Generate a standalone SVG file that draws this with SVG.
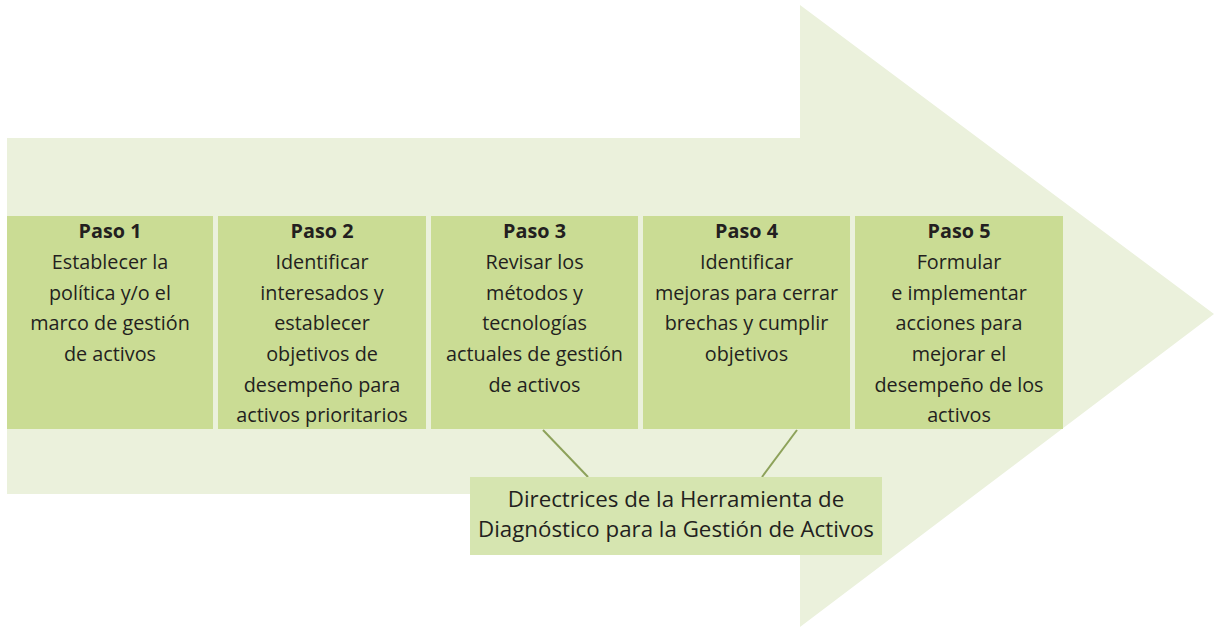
<svg xmlns="http://www.w3.org/2000/svg" width="1214" height="628" viewBox="0 0 1214 628">
<style>
.step{fill:#cadc94}
.guide{fill:#d6e5b0}
.t{font-family:"Open Sans","Liberation Sans",sans-serif;font-size:19.8px;fill:#231f20;text-anchor:middle}
.b{font-weight:bold}
.g{font-size:22.3px}
.conn{stroke:#8da25a;stroke-width:2;fill:none}
</style>
<rect width="1214" height="628" fill="#ffffff"/>
<g id="arrow">
<polygon points="7,138 800,138 800,5 1214,314 800,627 800,494 7,494" fill="#ebf1dc"/>
</g>
<g id="connectors">
<line class="conn" x1="543" y1="430" x2="588" y2="477"/>
<line class="conn" x1="797" y1="430" x2="762" y2="477"/>
</g>
<g id="paso1">
<rect class="step" x="7" y="216" width="206" height="213"/>
<text class="t" x="110"><tspan class="b" x="110" y="238">Paso 1</tspan><tspan x="110" y="269">Establecer la</tspan><tspan x="110" y="300">política y/o el</tspan><tspan x="110" y="330">marco de gestión</tspan><tspan x="110" y="361">de activos</tspan></text>
</g>
<g id="paso2">
<rect class="step" x="218" y="216" width="208" height="213"/>
<text class="t" x="322"><tspan class="b" x="322" y="238">Paso 2</tspan><tspan x="322" y="269">Identificar</tspan><tspan x="322" y="300">interesados y</tspan><tspan x="322" y="330">establecer</tspan><tspan x="322" y="361">objetivos de</tspan><tspan x="322" y="392">desempeño para</tspan><tspan x="322" y="422">activos prioritarios</tspan></text>
</g>
<g id="paso3">
<rect class="step" x="431" y="216" width="207" height="213"/>
<text class="t" x="534.5"><tspan class="b" x="534.5" y="238">Paso 3</tspan><tspan x="534.5" y="269">Revisar los</tspan><tspan x="534.5" y="300">métodos y</tspan><tspan x="534.5" y="330">tecnologías</tspan><tspan x="534.5" y="361">actuales de gestión</tspan><tspan x="534.5" y="392">de activos</tspan></text>
</g>
<g id="paso4">
<rect class="step" x="643" y="216" width="207" height="213"/>
<text class="t" x="746.5"><tspan class="b" x="746.5" y="238">Paso 4</tspan><tspan x="746.5" y="269">Identificar</tspan><tspan x="746.5" y="300">mejoras para cerrar</tspan><tspan x="746.5" y="330">brechas y cumplir</tspan><tspan x="746.5" y="361">objetivos</tspan></text>
</g>
<g id="paso5">
<rect class="step" x="855" y="216" width="208" height="213"/>
<text class="t" x="959"><tspan class="b" x="959" y="238">Paso 5</tspan><tspan x="959" y="269">Formular</tspan><tspan x="959" y="300">e implementar</tspan><tspan x="959" y="330">acciones para</tspan><tspan x="959" y="361">mejorar el</tspan><tspan x="959" y="392">desempeño de los</tspan><tspan x="959" y="422">activos</tspan></text>
</g>
<g id="directrices">
<rect class="guide" x="470" y="477" width="412" height="78"/>
<text class="t g" x="676"><tspan x="676" y="507">Directrices de la Herramienta de</tspan><tspan x="676" y="537">Diagnóstico para la Gestión de Activos</tspan></text>
</g>
</svg>
